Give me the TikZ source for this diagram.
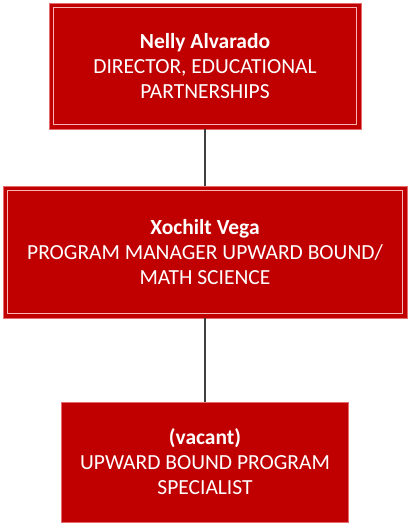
\documentclass[tikz,border=0pt]{standalone}
\usepackage{fontspec}
\setmainfont{Carlito}
\usetikzlibrary{positioning}
\definecolor{boxred}{HTML}{C00000}
\definecolor{edgered}{HTML}{E46C6C}
\definecolor{innerpink}{HTML}{F6B4B4}
\definecolor{linegray}{HTML}{404040}
\tikzset{
	node distance=57pt,
	every node/.style={outer sep=0pt},
	person/.style={rectangle, fill=boxred, draw=edgered, line width=1pt,
		text=white, align=center, font=\fontsize{21.5}{25}\selectfont},
	framed/.style={path picture={
		\draw[innerpink, line width=1pt]
			([shift={(4.5pt,4.5pt)}]path picture bounding box.south west) rectangle
			([shift={(-4.5pt,-4.5pt)}]path picture bounding box.north east);}},
	link/.style={draw=linegray, line width=2pt}}

\begin{document}
\begin{tikzpicture}
	\useasboundingbox (0,0) rectangle (408pt,-523pt);
	
	\node[person, framed, minimum width=312pt, minimum height=126pt] (nelly) at (205pt,-66pt)
		{\textbf{Nelly Alvarado}\\DIRECTOR, EDUCATIONAL\\PARTNERSHIPS};
	\node[person, framed, below=57pt of nelly, minimum width=404pt, minimum height=132pt] (xochilt)
		{\textbf{Xochilt Vega}\\PROGRAM MANAGER UPWARD BOUND/\\MATH SCIENCE};
	\node[person, below=84pt of xochilt, minimum width=287pt, minimum height=120pt] (vacant)
		{\textbf{(vacant)}\\UPWARD BOUND PROGRAM\\SPECIALIST};
	
	\draw[link] (nelly) -- (xochilt);
	\draw[link] (xochilt) -- (vacant);
\end{tikzpicture}
\end{document}
